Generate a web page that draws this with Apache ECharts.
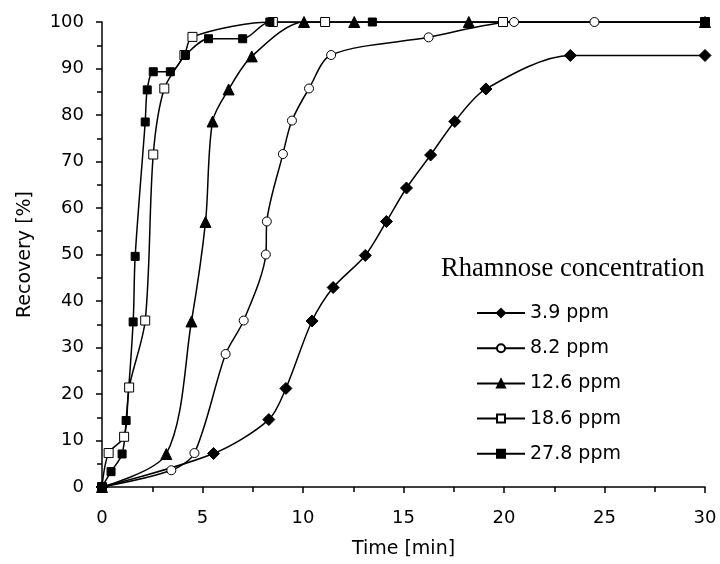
<!DOCTYPE html>
<html>
<head>
<meta charset="utf-8">
<title>Rhamnose recovery</title>
<script src="https://cdn.jsdelivr.net/npm/echarts@6.0.0/dist/echarts.min.js"></script>
<style>
	html, body { margin: 0; padding: 0; background: #fff; }
	#show { width: 720px; height: 564px; }
</style>
</head>
<body>
<div id="show"></div>
<script>
// time [min] and recovery [%] for each concentration
var t39 = [0, 5.55, 8.3, 9.15, 10.45, 11.5, 13.1, 14.15, 15.15, 16.35, 17.55, 19.1, 23.3, 30];
var r39 = [0, 7.2, 14.5, 21.2, 35.7, 42.9, 49.8, 57.1, 64.3, 71.4, 78.6, 85.6, 92.8, 92.8];

var t82 = [0, 3.45, 4.6, 6.15, 7.05, 8.15, 8.2, 9.0, 9.45, 10.3, 11.4, 16.25, 20.5, 24.5, 30];
var r82 = [0, 3.6, 7.3, 28.6, 35.8, 50.0, 57.1, 71.6, 78.8, 85.7, 92.9, 96.7, 100, 100, 100];

var t126 = [0, 3.2, 4.45, 5.15, 5.5, 6.3, 7.45, 10.05, 12.55, 18.25, 30];
var r126 = [0, 7.1, 35.6, 57.0, 78.6, 85.5, 92.6, 100, 100, 100, 100];

var t186 = [0, 0.33, 1.1, 1.35, 2.15, 2.55, 3.1, 4.1, 4.5, 8.5, 11.1, 19.95, 30];
var r186 = [0, 7.3, 10.8, 21.4, 35.8, 71.5, 85.7, 92.9, 96.8, 100, 100, 100, 100];

var t278 = [0, 0.45, 1.0, 1.2, 1.55, 1.65, 2.15, 2.25, 2.55, 3.4, 4.15, 5.3, 7.0, 8.35, 13.45, 30];
var r278 = [0, 3.3, 7.1, 14.3, 35.5, 49.6, 78.5, 85.4, 89.3, 89.3, 92.9, 96.4, 96.4, 100, 100, 100];

var names = ['3.9 ppm', '8.2 ppm', '12.6 ppm', '18.6 ppm', '27.8 ppm'];
var xTicks = [0, 5, 10, 15, 20, 25, 30];
var yTicks = [0, 10, 20, 30, 40, 50, 60, 70, 80, 90, 100];

var myEchart = echarts.init(document.getElementById("show"));

function pairs(t, r) {
	var out = [];
	for (var i = 0; i < t.length; i++) {
		out.push([t[i], r[i]]);
	}
	return out;
}

function makeSeries(name, t, r, symbol, size, fill) {
	return {
		name: name,
		type: 'line',
		data: pairs(t, r),
		smooth: 0.3,
		symbol: symbol,
		symbolSize: size,
		color: '#000',
		lineStyle: { color: '#000', width: 1.5 },
		itemStyle: { color: fill, borderColor: '#000', borderWidth: 1 }
	};
}

var sansFont = 'DejaVu Sans';

var option = {
	animation: false,
	backgroundColor: '#fff',
	title: {
		text: 'Rhamnose concentration',
		left: 441,
		top: 256,
		padding: 0,
		textStyle: {
			fontFamily: 'Liberation Serif',
			fontWeight: 'normal',
			fontSize: 26.6,
			color: '#000'
		}
	},
	legend: {
		orient: 'vertical',
		left: 476,
		top: 303,
		padding: 0,
		itemWidth: 48,
		itemHeight: 10,
		itemGap: 15.2,
		data: names,
		textStyle: {
			fontFamily: sansFont,
			fontSize: 19,
			lineHeight: 20,
			color: '#000'
		}
	},
	grid: {
		left: 102,
		top: 22,
		width: 603,
		height: 467
	},
	xAxis: {
		type: 'value',
		min: xTicks[0],
		max: xTicks[xTicks.length - 1],
		interval: 5,
		name: 'Time [min]',
		nameLocation: 'middle',
		nameGap: 53,
		nameTextStyle: { fontFamily: sansFont, fontSize: 19, color: '#000' },
		axisLine: { show: true, lineStyle: { color: '#000', width: 1.5 } },
		axisTick: { show: true, length: 6, lineStyle: { color: '#000', width: 1.5 } },
		minorTick: { show: true, splitNumber: 2, length: 5, lineStyle: { color: '#000', width: 1.5 } },
		axisLabel: { margin: 22, fontFamily: sansFont, fontSize: 18, color: '#000' },
		splitLine: { show: false }
	},
	yAxis: {
		type: 'value',
		min: yTicks[0],
		max: yTicks[yTicks.length - 1],
		interval: 10,
		name: 'Recovery [%]',
		nameLocation: 'middle',
		nameGap: 67,
		nameTextStyle: { fontFamily: sansFont, fontSize: 19, color: '#000' },
		axisLine: { show: true, lineStyle: { color: '#000', width: 1.5 } },
		axisTick: { show: true, length: 6, lineStyle: { color: '#000', width: 1.5 } },
		minorTick: { show: true, splitNumber: 2, length: 5, lineStyle: { color: '#000', width: 1.5 } },
		axisLabel: { margin: 18, fontFamily: sansFont, fontSize: 18, color: '#000' },
		splitLine: { show: false }
	},
	series: [
		makeSeries(names[0], t39, r39, 'diamond', 12, '#000'),
		makeSeries(names[1], t82, r82, 'circle', 9, '#fff'),
		makeSeries(names[2], t126, r126, 'triangle', 11, '#000'),
		makeSeries(names[3], t186, r186, 'rect', 9, '#fff'),
		makeSeries(names[4], t278, r278, 'rect', 8, '#000')
	]
};

myEchart.setOption(option);
</script>
</body>
</html>
